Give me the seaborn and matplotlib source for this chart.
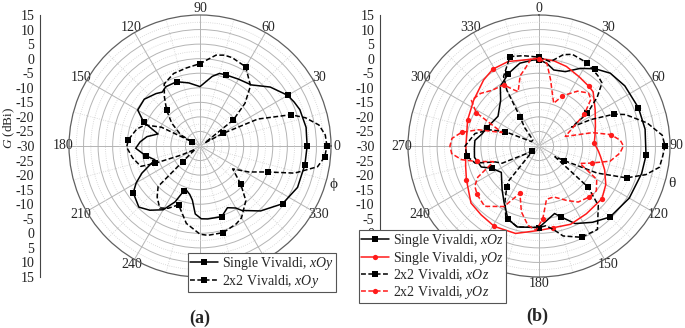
import numpy as np
import matplotlib
matplotlib.use('Agg')
import matplotlib.pyplot as plt
from matplotlib.lines import Line2D
import seaborn as sns

sns.set_style('white')
plt.rcParams['font.family'] = ['Liberation Serif', 'DejaVu Serif']
plt.rcParams['mathtext.fontset'] = 'custom'
plt.rcParams['mathtext.it'] = 'Liberation Serif:italic'
plt.rcParams['mathtext.rm'] = 'Liberation Serif'

# ---- (a) xOy plane, phi in degrees, gain in dBi ----
a_single_ang = [0, 10, 20, 25, 30, 40, 50, 60, 70, 75, 80, 90, 100, 110, 120, 125, 130, 140,
                150, 157, 164, 170, 176, 182, 190, 197, 205, 210, 215, 225, 232, 240, 246, 250,
                253, 258, 262, 266, 271, 276, 287, 294, 300, 303, 313, 325, 337, 350, 360]
a_single_gain = [6.8, 7.0, 6.5, 5.7, 4.8, 1.5, -2.6, -3.5, -4.0, -4.2, -5.7, -9.6, -8.0, -6.5, -6.5, -7.4, -6.5, -5.0,
                 -5.3, -9.0, -15.0, -11.5, -9.4, -7.9, -11.0, -13.8, -8.0, -4.7, -2.0, -0.3, -2.0, -4.7, -9.0, -13.5,
                 -14.1, -13.0, -11.2, -6.6, -5.0, -4.8, -4.6, -6.8, -5.4, -3.6, 0.5, 4.6, 6.4, 6.6, 6.8]

a_array_ang = [0, 5, 10, 15, 19, 25, 28.6, 33, 38, 43.5, 50, 60, 70, 75, 80, 90, 100, 110, 120, 126,
               133, 141, 150, 152, 154, 159, 165, 175, 181, 190, 199, 201, 206, 214, 222, 224, 230,
               237, 243, 250, 260, 270, 275, 285, 295, 300, 310, 317, 325, 332, 339, 344, 350, 355, 360]
a_array_gain = [13.6, 13.2, 11.5, 7.5, 3.0, -8.1, -20.9, -28.0, -15.5, -8.7, -3.0, 1.4, 2.3, 2.3, 1.7, -1.7, -2.8, -3.5, -5.4, -9.2,
                -13.2, -17.5, -22.4, -27.0, -15.3, -9.8, -7.5, -5.3, -4.8, -6.5, -8.5, -13.4, -23.0, -28.0, -22.0, -10.0, -7.1,
                -4.6, -6.0, -8.5, -3.0, 0.3, 0.8, 0.8, -0.5, -1.5, -5.5, -10.9, -16.3, -11.0, -5.1, 3.8, 11.0, 13.0, 13.6]

# ---- (b) xOz / yOz planes, theta in degrees ----
b_single_xoz_ang = [0, 5.5, 11, 19.5, 28, 36, 44.4, 55, 69, 81, 95, 105, 120, 135, 145, 155, 163, 167, 172,
                    180, 195, 203, 212, 220, 235, 245, 250, 260, 268, 275, 282, 289, 306, 320, 327, 337,
                    347, 356, 360]
b_single_xoz_gain = [-0.4, -1.5, -3.4, -2.9, 0.2, 2.8, 5.0, 6.0, 6.6, 6.9, 6.9, 6.5, 5.8, 4.5, 2.0, -0.6, -4.6, -6.2, -4.9,
                     -2.0, -1.2, -2.7, -7.3, -10.3, -14.2, -12.0, -8.9, -7.5, -7.8, -7.9, -10.0, -11.0, -12.6, -9.5, -5.6, -3.0,
                     -0.8, -0.4, -0.4]

b_single_yoz_ang = [0, 10, 19, 30, 40, 45, 57, 71, 80, 87, 95, 100, 110, 120, 130, 145, 158, 170, 180,
                    195, 209, 220, 230, 245, 255, 270, 290, 305, 320, 329, 340, 350, 360]
b_single_yoz_gain = [0.1, -0.3, -1.1, -2.5, -3.3, -3.7, -7.0, -9.5, -10.5, -11.0, -9.5, -8.5, -6.0, -3.5, -1.8, -1.6, -1.0, -1.5, -1.0,
                     1.1, 1.6, 0.9, 0.5, -2.5, -3.9, -4.9, -3.9, -2.6, -0.4, 0.8, 0.9, 0.0, 0.1]

b_array_xoz_ang = [0, 7.6, 15, 20, 30, 40, 45, 50, 56, 60, 63, 67, 70, 78, 85, 90, 95, 100, 105, 110, 115,
                   120, 124, 130, 135, 145, 155, 165, 170, 175, 180, 195, 205, 212, 218, 221, 226, 232,
                   245, 250, 255, 262, 270, 281, 288, 293, 300, 315, 322, 327, 330, 333, 342, 350, 355, 360]
b_array_xoz_gain = [0.5, -0.8, 2.5, 3.5, 3.0, 1.5, 0.6, -3.9, -10.0, -17.0, -10.0, -2.0, 1.6, 8.0, 12.5, 13.3, 12.6, 12.0, 8.0, 2.0, -8.0,
                    -20.0, -23.4, -8.0, -1.2, 5.0, 4.6, 2.0, -0.8, -2.5, -2.0, -1.2, -3.0, -8.0, -12.0, -14.0, -25.0, -27.0,
                    -16.0, -14.0, -7.3, -5.0, -4.6, -7.6, -12.0, -17.3, -27.0, -27.0, -22.0, -18.0, -8.0, -3.2, 2.3, 1.5, 0.9, 0.5]

b_array_yoz_ang = [0, 5.5, 10, 15, 19, 25, 35, 43, 48, 55, 62, 70, 76, 81, 86, 90, 95, 102, 108, 113,
                   120, 128, 136, 145, 153, 164, 172, 177, 182, 188, 195, 202, 210, 222, 232, 238, 243,
                   251, 256, 260, 265, 270, 275, 280, 285, 290, 298, 304, 312, 320, 330, 335, 339, 345,
                   350, 355, 360]
b_array_yoz_gain = [0.0, -1.5, -7.0, -12.0, -14.5, -11.0, -7.0, -5.1, -6.0, -11.0, -17.0, -20.4, -11.0, -5.0, -2.0, -1.0, -2.1, -5.0, -11.0, -14.7,
                    -7.1, -5.0, -5.5, -6.5, -9.0, -11.8, -11.5, -5.0, -1.0, -2.5, -6.6, -12.5, -6.0, -2.1, -3.0, -4.0, -6.4,
                    -13.5, -8.0, -3.0, 0.1, 0.6, 0.0, -3.0, -8.4, -16.5, -5.6, -2.0, -3.0, -5.0, -5.7, -8.5, -10.0, -5.0,
                    -2.9, 0.2, 0.0]

angle_ticks = list(range(0, 360, 30))
# angle labels that sit under the legends in the reference
a_hidden = [270, 300]
b_hidden = [210]

W, H = 685, 328
fig = plt.figure(figsize=(W / 100, H / 100), dpi=100)
CY, R = 146, 131
BLACK, RED = '#000000', '#ff1a1a'
DASH = (0, (3.2, 1.6))


def polar_panel(cx, hidden):
    ax = fig.add_axes([(cx - R) / W, (H - CY - R) / H, 2 * R / W, 2 * R / H], projection='polar')
    ax.set_ylim(-30, 15)
    ax.set_yticks(np.arange(-25, 15, 5))
    ax.set_yticks(np.arange(-27.5, 15, 5), minor=True)
    ax.set_yticklabels([])
    ax.set_xticks(np.deg2rad(angle_ticks))
    ax.set_xticks(np.deg2rad(np.arange(15, 360, 30)), minor=True)
    ax.set_xticklabels(['' if a in hidden else str(a) for a in angle_ticks])
    ax.grid(which='major', color='#b4b4b4', lw=0.7, ls='-')
    ax.grid(which='minor', color='#cfcfcf', lw=0.6, ls=':')
    ax.tick_params(which='both', length=0)
    ax.tick_params(axis='x', pad=-2.5, labelsize=10)
    ax.spines['polar'].set_color('#606060')
    ax.spines['polar'].set_linewidth(0.9)
    return ax


def radial_axis(x, lowest=-45):
    rax = fig.add_axes([x / W, (H - CY - R) / H, 0.0001, 2 * R / H])
    rax.set_ylim(-45, 45)
    ticks = np.arange(-45, 46, 5)
    rax.set_yticks(ticks)
    rax.set_yticklabels([str(int(abs(t) - 30)) if t >= lowest else '' for t in ticks], fontsize=10)
    rax.set_yticks(np.arange(-42.5, 45, 5), minor=True)
    rax.tick_params(axis='y', which='major', length=3, width=0.8, pad=1, colors='#222222')
    rax.tick_params(axis='y', which='minor', length=1.8, width=0.6)
    rax.set_xticks([])
    for s in ['top', 'right', 'bottom']:
        rax.spines[s].set_visible(False)
    rax.spines['left'].set_color('#444444')
    rax.spines['left'].set_linewidth(0.8)
    rax.patch.set_visible(False)
    return rax


def curve(ax, ang, gain, color, ls, marker):
    sns.lineplot(x=np.deg2rad(ang), y=gain, ax=ax, color=color, linestyle=ls, lw=1.1,
                 marker=marker, markersize=3.8, markeredgewidth=0, markevery=0.16,
                 sort=False, estimator=None, legend=False)
    ax.set_xlabel('')
    ax.set_ylabel('')


# panel (a)
ax_a = polar_panel(200, a_hidden)
curve(ax_a, a_single_ang, a_single_gain, BLACK, '-', 's')
curve(ax_a, a_array_ang, a_array_gain, BLACK, DASH, 's')
ax_a.set_ylim(-30, 15)
radial_axis(40)
fig.text(9 / W, 1 - 128 / H, '$G$ (dBi)', rotation=90, ha='center', va='center', fontsize=9.5)
fig.text(333 / W, 1 - 184 / H, '\u03d5', ha='center', va='center', fontsize=11)
fig.text(200 / W, 1 - 318 / H, '(a)', ha='center', va='center', fontsize=13, fontweight='bold')

# panel (b)
ax_b = polar_panel(539, b_hidden)
ax_b.set_theta_zero_location('N')
ax_b.set_theta_direction(-1)
curve(ax_b, b_single_xoz_ang, b_single_xoz_gain, BLACK, '-', 's')
curve(ax_b, b_single_yoz_ang, b_single_yoz_gain, RED, '-', 'o')
curve(ax_b, b_array_xoz_ang, b_array_xoz_gain, BLACK, DASH, 's')
curve(ax_b, b_array_yoz_ang, b_array_yoz_gain, RED, DASH, 'o')
ax_b.set_ylim(-30, 15)
radial_axis(380, lowest=-30)
fig.text(672 / W, 1 - 183 / H, '\u03b8', ha='center', va='center', fontsize=11)
fig.text(537 / W, 1 - 316 / H, '(b)', ha='center', va='center', fontsize=13, fontweight='bold')


def handle(color, ls, marker):
    return Line2D([], [], color=color, linestyle=ls, lw=1.1, marker=marker, markersize=3.8,
                  markeredgewidth=0)


leg_kw = dict(loc='upper left', frameon=True, fancybox=False, edgecolor='#555555', framealpha=1,
              fontsize=10, borderpad=0.15, labelspacing=0.05, handlelength=2.0, handletextpad=0.3,
              borderaxespad=0)
leg_a = fig.legend([handle(BLACK, '-', 's'), handle(BLACK, DASH, 's')],
                   ['Single Vivaldi, $xOy$', '2x2 Vivaldi, $xOy$'],
                   bbox_to_anchor=(188 / W, 1 - 253 / H), **leg_kw)
leg_a.get_frame().set_linewidth(0.8)
leg_b = fig.legend([handle(BLACK, '-', 's'), handle(RED, '-', 'o'), handle(BLACK, DASH, 's'), handle(RED, DASH, 'o')],
                   ['Single Vivaldi, $xOz$', 'Single Vivaldi, $yOz$', '2x2 Vivaldi, $xOz$', '2x2 Vivaldi, $yOz$'],
                   bbox_to_anchor=(359 / W, 1 - 230 / H), **leg_kw)
leg_b.get_frame().set_linewidth(0.8)

fig.savefig('out.png', dpi=100)
